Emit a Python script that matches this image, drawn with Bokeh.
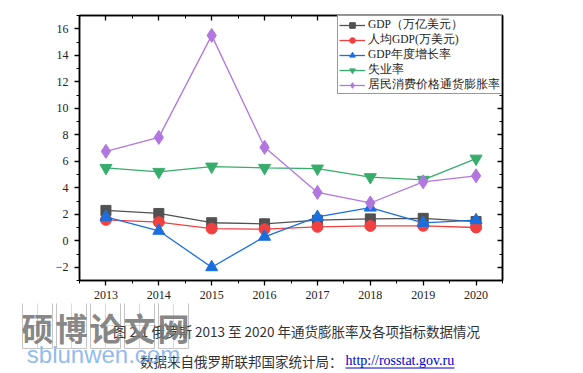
from bokeh.plotting import figure
from bokeh.models import LinearAxis, Range1d, Label, FixedTicker, Legend
from bokeh.embed import file_html
from bokeh.resources import INLINE

years = [2013, 2014, 2015, 2016, 2017, 2018, 2019, 2020]
gdp = [2.29, 2.06, 1.36, 1.28, 1.55, 1.65, 1.69, 1.45]
gdp_pc = [1.58, 1.40, 0.92, 0.87, 1.05, 1.12, 1.13, 1.00]
gdp_growth = [1.8, 0.75, -2.0, 0.3, 1.8, 2.5, 1.35, 1.55]
unemp = [5.5, 5.2, 5.6, 5.5, 5.45, 4.8, 4.6, 6.2]
cpi = [6.75, 7.8, 15.5, 7.05, 3.65, 2.85, 4.45, 4.9]

names = ["GDP（万亿美元）", "人均GDP(万美元)", "GDP年度增长率", "失业率", "居民消费价格通货膨胀率"]
x_ticks = years
y_ticks = [-2, 0, 2, 4, 6, 8, 10, 12, 14, 16]
caption1 = "图 2.1 俄罗斯 2013 至 2020 年通货膨胀率及各项指标数据情况"
caption2a = "数据来自俄罗斯联邦国家统计局："
caption2b = "http://rosstat.gov.ru"
wm1 = list("硕博论文网")
wm2 = "sblunwen.com"

SERIF = "'Liberation Serif'"
CJK = "'Noto Sans CJK SC'"

W = 583
H1 = 303
H2 = 70

p = figure(width=W, height=H1, output_backend="svg", toolbar_location=None,
           x_range=Range1d(2012.5, 2020.5), y_range=Range1d(-3, 17),
           min_border_left=79, min_border_right=81, min_border_top=15, min_border_bottom=23,
           x_axis_type=None, y_axis_type=None)
p.grid.visible = False
p.outline_line_color = "black"
p.outline_line_width = 1.5
p.background_fill_color = "white"
p.border_fill_color = "white"

def style_axis(ax, ticks, minor, labels=True, inward=False):
    ax.ticker = FixedTicker(ticks=ticks, minor_ticks=minor)
    ax.axis_line_color = "black"
    ax.axis_line_width = 1.5
    ax.major_tick_line_color = "black"
    ax.minor_tick_line_color = "black"
    ax.major_tick_line_width = 1.3
    ax.minor_tick_line_width = 1.0
    if inward:
        ax.major_tick_in, ax.major_tick_out = 5, 0
        ax.minor_tick_in, ax.minor_tick_out = 3, 0
    else:
        ax.major_tick_in, ax.major_tick_out = 0, 5
        ax.minor_tick_in, ax.minor_tick_out = 0, 3
    ax.major_label_text_font = SERIF
    ax.major_label_text_font_size = "12px"
    ax.major_label_text_color = "#222222"
    if not labels:
        ax.major_label_text_alpha = 0
        ax.major_label_text_font_size = "1px"
        ax.major_label_standoff = 0

x_minor = [y + 0.5 for y in range(2012, 2021)]
y_minor = [v for v in range(-3, 18, 2)]

xb = LinearAxis(); style_axis(xb, x_ticks, x_minor); xb.major_label_standoff = 5
p.add_layout(xb, "below")
yl = LinearAxis(); style_axis(yl, y_ticks, y_minor); yl.major_label_standoff = 6
p.add_layout(yl, "left")
xt = LinearAxis(); style_axis(xt, x_ticks, x_minor, labels=False, inward=True)
p.add_layout(xt, "above")
yr = LinearAxis(); style_axis(yr, y_ticks, y_minor, labels=False, inward=True)
p.add_layout(yr, "right")

colors = ["#515151", "#F14040", "#1A6FDF", "#37AD6B", "#B177DE"]
markers = ["square", "circle", "triangle", "inverted_triangle", "diamond"]
sizes = [10, 11, 12, 12, 14]
series = [gdp, gdp_pc, gdp_growth, unemp, cpi]

items = []
for name, c, m, s, ys in zip(names, colors, markers, sizes, series):
    l = p.line(years, ys, line_color=c, line_width=1.3)
    sc = p.scatter(years, ys, marker=m, size=s, fill_color=c, line_color=c)
    items.append((name, [l, sc]))

legend = Legend(items=items, location="top_right")
legend.margin = 0
legend.padding = 1
legend.spacing = 0
legend.label_height = 14
legend.glyph_height = 14
legend.glyph_width = 26
legend.label_standoff = 3
legend.label_text_font = SERIF
legend.label_text_font_size = "11.5px"
legend.label_text_color = "#222222"
legend.border_line_color = "#333333"
legend.border_line_width = 1
legend.background_fill_color = "white"
legend.background_fill_alpha = 1
p.add_layout(legend, "center")

# ---- bottom caption panel (separate root): data units = window pixels
q = figure(width=W, height=H2, output_backend="svg", toolbar_location=None,
           x_range=Range1d(0, W), y_range=Range1d(H1 + H2, H1),
           min_border=0, x_axis_type=None, y_axis_type=None)
q.grid.visible = False
q.outline_line_color = None
q.background_fill_color = "white"
q.border_fill_color = "white"

q.add_layout(Label(x=296, y=330, text=caption1,
                   text_font=CJK, text_font_size="13.5px", text_color="#333333",
                   text_align="center", text_baseline="middle"))
q.add_layout(Label(x=342, y=360, text=caption2a,
                   text_font=CJK, text_font_size="13.5px", text_color="#333333",
                   text_align="right", text_baseline="middle"))
q.add_layout(Label(x=345, y=360, text=caption2b,
                   text_font="'Liberation Serif'", text_font_size="14px", text_color="#0000cc",
                   text_align="left", text_baseline="middle"))
q.segment(x0=[345], y0=[367.5], x1=[454], y1=[367.5], line_color="#0000cc", line_width=1)

# watermark
box_x = [37.0 + 34 * i for i in range(5)]
q.quad(left=[b - 15 for b in box_x], right=[b + 15 for b in box_x],
       top=[302] * 5, bottom=[348] * 5, fill_alpha=0,
       line_color="#c4c4c4", line_width=1)
q.segment(x0=box_x, y0=[302] * 5, x1=box_x, y1=[348] * 5, line_color="#dadada", line_width=1)
q.segment(x0=[b - 15 for b in box_x], y0=[325] * 5, x1=[b + 15 for b in box_x], y1=[325] * 5,
          line_color="#dadada", line_width=1)
for bx, ch in zip(box_x, wm1):
    q.add_layout(Label(x=bx, y=326, text=ch, text_font=CJK, text_font_size="32px",
                       text_font_style="bold", text_color="#777777", text_alpha=0.9,
                       text_align="center", text_baseline="middle"))
q.add_layout(Label(x=103, y=354, text=wm2, text_font="'Liberation Sans'",
                   text_font_size="24px", text_color="#7eaeea", text_alpha=0.85,
                   text_align="center", text_baseline="middle"))

open("out.html", "w").write(file_html([p, q], INLINE))
